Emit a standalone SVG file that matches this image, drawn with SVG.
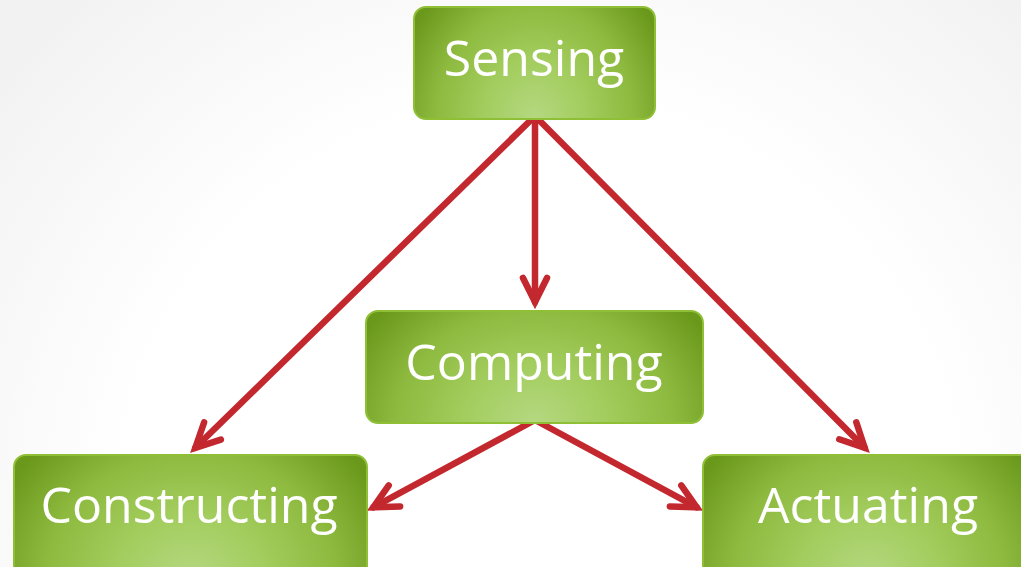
<svg xmlns="http://www.w3.org/2000/svg" width="1021" height="567" viewBox="0 0 1021 567">
<defs>
<style>
.box{fill:url(#g);stroke:#8fbf35;stroke-width:2}
.lbl{font-family:"Open Sans","Noto Sans",sans-serif;font-size:50px;fill:#ffffff;text-anchor:middle}
.con{stroke:#c3282f;stroke-width:6.5;fill:none;stroke-linecap:round;marker-end:url(#ah)}
</style>
<radialGradient id="bg" cx="540" cy="520" r="700" gradientUnits="userSpaceOnUse">
<stop offset="0" stop-color="#ffffff"/>
<stop offset="0.6" stop-color="#ffffff"/>
<stop offset="1" stop-color="#f2f2f2"/>
</radialGradient>
<radialGradient id="g" cx="0.5" cy="1" r="1" gradientTransform="translate(0.5,1) scale(0.6,1.5) translate(-0.5,-1)">
<stop offset="0" stop-color="#b4d881"/>
<stop offset="0.35" stop-color="#a3cd5e"/>
<stop offset="0.7" stop-color="#8cb93d"/>
<stop offset="1" stop-color="#6a981b"/>
</radialGradient>
<marker id="ah" markerUnits="userSpaceOnUse" markerWidth="40" markerHeight="40" viewBox="-30 -20 40 40" refX="0" refY="0" orient="auto" overflow="visible">
<path d="M -24 -12 L 0 0 L -24 12" fill="none" stroke="#c3282f" stroke-width="6.5" stroke-linecap="round" stroke-linejoin="miter" stroke-miterlimit="10"/>
</marker>
</defs>
<rect x="0" y="0" width="1021" height="567" fill="url(#bg)"/>
<g id="connectors">
<line class="con" x1="535" y1="116" x2="535" y2="302"/>
<line class="con" x1="535" y1="116" x2="195.3" y2="447.8"/>
<line class="con" x1="535" y1="116" x2="864.7" y2="447.8"/>
<line class="con" x1="535" y1="420" x2="373.3" y2="507.3"/>
<line class="con" x1="535" y1="420" x2="696.7" y2="507.3"/>
</g>
<g id="sensing">
<rect class="box" x="414" y="7" width="241" height="112" rx="12"/>
<text class="lbl" x="534" y="76">Sensing</text>
</g>
<g id="computing">
<rect class="box" x="366" y="311" width="337" height="112" rx="12"/>
<text class="lbl" x="534" y="380">Computing</text>
</g>
<g id="constructing">
<rect class="box" x="14" y="455" width="353" height="125" rx="12"/>
<text class="lbl" x="189" y="523">Constructing</text>
</g>
<g id="actuating">
<rect class="box" x="703" y="455" width="332" height="125" rx="12"/>
<text class="lbl" x="868" y="523">Actuating</text>
</g>
</svg>
